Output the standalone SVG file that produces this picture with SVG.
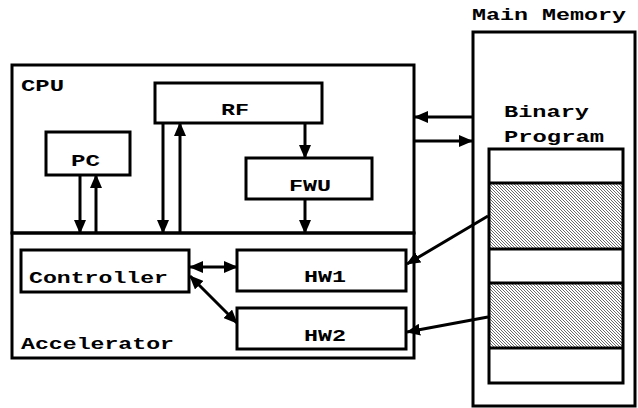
<svg xmlns="http://www.w3.org/2000/svg" width="638" height="408" viewBox="0 0 638 408">
<defs>
<style>
.box{fill:none;stroke:#000;stroke-width:3}
.t{font-family:"Liberation Mono","Courier New",monospace;font-weight:bold;font-size:16px;fill:#000}
.c{fill:none;stroke:#000;stroke-width:3}
.a{marker-end:url(#ah)}
.d{marker-start:url(#ah);marker-end:url(#ah)}
</style>
<marker id="ah" markerUnits="userSpaceOnUse" markerWidth="14" markerHeight="12" viewBox="0 0 14 12" refX="13" refY="6" orient="auto-start-reverse">
<path d="M0,0 L14,6 L0,12 z" fill="#000"/>
</marker>
<pattern id="hatch" patternUnits="userSpaceOnUse" width="3" height="3">
<rect width="3" height="3" fill="#fff"/>
<path d="M0,0 L3,3 M-1,2 L1,4 M2,-1 L4,1" stroke="#444" stroke-width="0.8"/>
</pattern>
</defs>

<g id="main-memory">
<rect class="box" x="473" y="32" width="162" height="374" stroke-width="2.5"/>
<text class="t" x="472" y="20" textLength="154" lengthAdjust="spacingAndGlyphs">Main Memory</text>
</g>

<g id="binary-program">
<text class="t" x="504" y="117" textLength="85" lengthAdjust="spacingAndGlyphs">Binary</text>
<text class="t" x="504" y="142" textLength="100" lengthAdjust="spacingAndGlyphs">Program</text>
<rect x="489" y="183" width="134" height="66" fill="url(#hatch)"/>
<rect x="489" y="283" width="134" height="65" fill="url(#hatch)"/>
<rect class="box" x="489" y="149" width="134" height="234"/>
<path d="M489,183 H623 M489,249 H623 M489,283 H623 M489,348 H623" stroke="#000" stroke-width="3"/>
</g>

<g id="cpu">
<rect class="box" x="12" y="65" width="402" height="168"/>
<text class="t" x="21" y="91" textLength="43" lengthAdjust="spacingAndGlyphs">CPU</text>
</g>

<g id="accelerator">
<rect class="box" x="12" y="233" width="402" height="125"/>
<text class="t" x="21" y="349" textLength="153" lengthAdjust="spacingAndGlyphs">Accelerator</text>
</g>

<g id="rf">
<rect class="box" x="155" y="83" width="167" height="40"/>
<text class="t" x="221" y="115" textLength="28" lengthAdjust="spacingAndGlyphs">RF</text>
</g>

<g id="pc">
<rect class="box" x="46" y="132" width="84" height="43"/>
<text class="t" x="71" y="166" textLength="29" lengthAdjust="spacingAndGlyphs">PC</text>
</g>

<g id="fwu">
<rect class="box" x="246" y="158" width="126" height="41"/>
<text class="t" x="289" y="191" textLength="42" lengthAdjust="spacingAndGlyphs">FWU</text>
</g>

<g id="controller">
<rect class="box" x="21" y="250" width="168" height="42"/>
<text class="t" x="29" y="283" textLength="139" lengthAdjust="spacingAndGlyphs">Controller</text>
</g>

<g id="hw1">
<rect class="box" x="237" y="250" width="169" height="41"/>
<text class="t" x="304" y="282" textLength="42" lengthAdjust="spacingAndGlyphs">HW1</text>
</g>

<g id="hw2">
<rect class="box" x="237" y="308" width="169" height="41"/>
<text class="t" x="304" y="341" textLength="42" lengthAdjust="spacingAndGlyphs">HW2</text>
</g>

<g id="connectors">
<path class="c a" d="M80,175 V233"/>
<path class="c a" d="M96,233 V175"/>
<path class="c a" d="M163,123 V233"/>
<path class="c a" d="M180,233 V123"/>
<path class="c a" d="M305,123 V158"/>
<path class="c a" d="M305,199 V233"/>
<path class="c a" d="M472,117 H415"/>
<path class="c a" d="M414,141 H472"/>
<path class="c d" d="M190,267 H237"/>
<path class="c d" d="M190,276 L237,323"/>
<path class="c a" d="M488,216 L407,264"/>
<path class="c a" d="M488,317 L407,332"/>
</g>
</svg>
